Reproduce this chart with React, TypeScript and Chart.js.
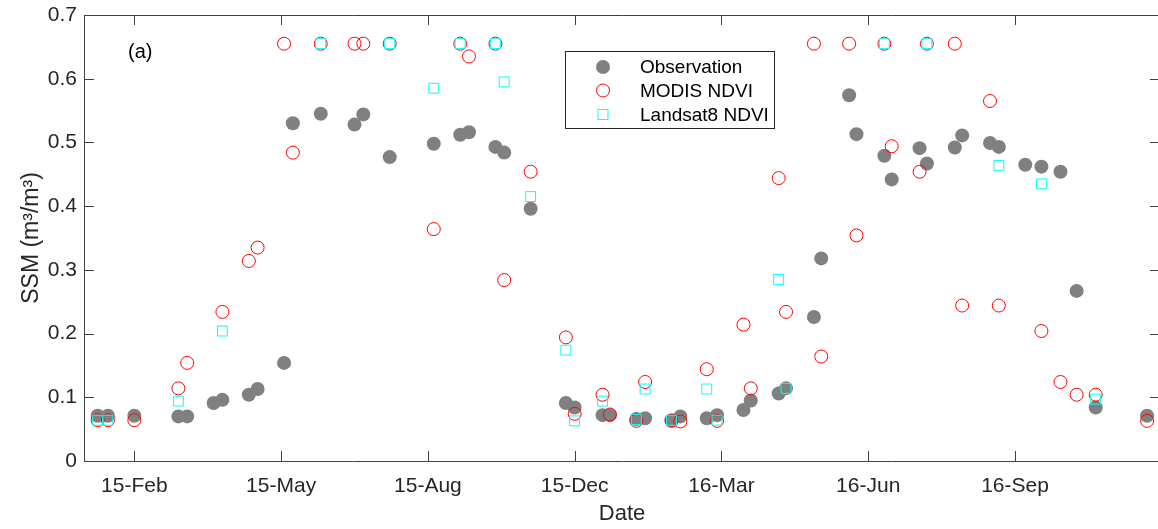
import React, { useEffect, useRef } from 'react';
import { Chart, registerables } from 'chart.js';

Chart.register(...registerables);

// x values are day offsets from the first labelled tick (ticks every 100 days)
const xTickValues = [0, 100, 200, 300, 400, 500, 600];
const xTickLabels = ['15-Feb', '15-May', '15-Aug', '15-Dec', '16-Mar', '16-Jun', '16-Sep'];
const yTickValues = [0, 0.1, 0.2, 0.3, 0.4, 0.5, 0.6, 0.7];

const seriesNames = ['Observation', 'MODIS NDVI', 'Landsat8 NDVI'];
const panelLabel = '(a)';
const xTitle = 'Date';
const yTitle = 'SSM (m³/m³)';

const obsDays = [-25, -18, 0, 30, 36, 54, 60, 78, 84, 102, 108, 127, 150, 156, 174, 204, 222, 228, 246, 252, 270, 294, 300, 319, 324, 342, 348, 366, 372, 390, 397, 415, 420, 439, 444, 463, 468, 487, 492, 511, 516, 535, 540, 559, 564, 583, 589, 607, 618, 631, 642, 655, 690];
const obsSSM = [0.071, 0.071, 0.071, 0.070, 0.070, 0.091, 0.096, 0.104, 0.113, 0.154, 0.530, 0.545, 0.528, 0.544, 0.477, 0.498, 0.512, 0.516, 0.493, 0.484, 0.396, 0.091, 0.084, 0.072, 0.072, 0.066, 0.067, 0.064, 0.070, 0.067, 0.072, 0.080, 0.095, 0.106, 0.114, 0.226, 0.318, 0.574, 0.513, 0.479, 0.442, 0.491, 0.467, 0.492, 0.511, 0.499, 0.493, 0.465, 0.462, 0.454, 0.267, 0.084, 0.071];

const modisDays = [-25, -18, 0, 30, 36, 60, 78, 84, 102, 108, 127, 150, 156, 174, 204, 222, 228, 246, 252, 270, 294, 300, 319, 324, 342, 348, 366, 372, 390, 397, 415, 420, 439, 444, 463, 468, 487, 492, 511, 516, 535, 540, 559, 564, 583, 589, 618, 631, 642, 655, 690];
const modisSSM = [0.064, 0.064, 0.064, 0.114, 0.154, 0.234, 0.314, 0.335, 0.655, 0.484, 0.655, 0.655, 0.655, 0.655, 0.364, 0.655, 0.635, 0.655, 0.284, 0.454, 0.194, 0.074, 0.104, 0.073, 0.063, 0.124, 0.063, 0.062, 0.144, 0.063, 0.214, 0.114, 0.444, 0.234, 0.655, 0.164, 0.655, 0.354, 0.655, 0.494, 0.454, 0.655, 0.655, 0.244, 0.565, 0.244, 0.204, 0.124, 0.104, 0.104, 0.063];

const landsatDays = [-25, -18, 30, 60, 127, 174, 204, 222, 246, 252, 270, 294, 300, 319, 342, 348, 366, 390, 397, 439, 444, 511, 540, 589, 618, 655];
const landsatSSM = [0.064, 0.064, 0.094, 0.204, 0.655, 0.655, 0.585, 0.655, 0.655, 0.595, 0.415, 0.174, 0.063, 0.094, 0.065, 0.113, 0.064, 0.113, 0.064, 0.285, 0.114, 0.655, 0.655, 0.464, 0.435, 0.097];

const FONT = '"Liberation Sans", Arial, sans-serif';
const OBS_COLOR = '#808080';
const MODIS_COLOR = '#ff0000';
const LANDSAT_COLOR = '#00ffff';
const AXIS_COLOR = '#404040';
const TEXT_COLOR = '#262626';

const toPoints = (xs: number[], ys: number[]) => xs.map((x, i) => ({ x, y: ys[i] }));

const framePlugin = {
  id: 'matlabFrame',
  afterDraw(chart: any) {
    const { ctx, chartArea, scales } = chart;
    const { left, right, top, bottom } = chartArea;
    const tick = 10;
    ctx.save();
    ctx.strokeStyle = AXIS_COLOR;
    ctx.lineWidth = 1;
    ctx.beginPath();
    ctx.rect(Math.round(left) + 0.5, Math.round(top) + 0.5, Math.round(right - left), Math.round(bottom - top));
    xTickValues.forEach((v) => {
      const px = Math.round(scales.x.getPixelForValue(v)) + 0.5;
      ctx.moveTo(px, bottom);
      ctx.lineTo(px, bottom - tick);
      ctx.moveTo(px, top);
      ctx.lineTo(px, top + tick);
    });
    yTickValues.forEach((v) => {
      const py = Math.round(scales.y.getPixelForValue(v)) + 0.5;
      ctx.moveTo(left, py);
      ctx.lineTo(left + tick, py);
      ctx.moveTo(right, py);
      ctx.lineTo(right - tick, py);
    });
    ctx.stroke();

    // panel label
    ctx.fillStyle = '#000';
    ctx.font = `20px ${FONT}`;
    ctx.textBaseline = 'middle';
    ctx.textAlign = 'left';
    ctx.fillText(panelLabel, 128, 52);

    // legend box
    const bx = 565, by = 51, bw = 209, bh = 77;
    ctx.fillStyle = '#ffffff';
    ctx.fillRect(bx, by, bw, bh);
    ctx.strokeStyle = TEXT_COLOR;
    ctx.strokeRect(bx + 0.5, by + 0.5, bw, bh);
    const rows = [67, 90.5, 114.5];
    const mx = 603;
    ctx.fillStyle = OBS_COLOR;
    ctx.beginPath();
    ctx.arc(mx, rows[0], 7, 0, Math.PI * 2);
    ctx.fill();
    ctx.strokeStyle = MODIS_COLOR;
    ctx.beginPath();
    ctx.arc(mx, rows[1], 6.5, 0, Math.PI * 2);
    ctx.stroke();
    ctx.strokeStyle = LANDSAT_COLOR;
    ctx.strokeRect(mx - 5, rows[2] - 5, 10, 10);

    ctx.fillStyle = '#000';
    ctx.font = `19px ${FONT}`;
    seriesNames.forEach((name, i) => ctx.fillText(name, 640, rows[i] + 1));
    ctx.restore();
  },
};

export default function App() {
  const ref = useRef<HTMLCanvasElement | null>(null);
  useEffect(() => {
    if (!ref.current) return;
    const chart = new Chart(ref.current, {
      type: 'scatter',
      data: {
        datasets: [
          {
            label: seriesNames[0],
            data: toPoints(obsDays, obsSSM),
            pointStyle: 'circle',
            pointRadius: 7,
            pointHoverRadius: 7,
            backgroundColor: OBS_COLOR,
            borderColor: OBS_COLOR,
            borderWidth: 0,
            order: 3,
          },
          {
            label: seriesNames[1],
            data: toPoints(modisDays, modisSSM),
            pointStyle: 'circle',
            pointRadius: 6.5,
            pointHoverRadius: 6.5,
            backgroundColor: 'rgba(0,0,0,0)',
            borderColor: MODIS_COLOR,
            borderWidth: 1,
            order: 2,
          },
          {
            label: seriesNames[2],
            data: toPoints(landsatDays, landsatSSM),
            pointStyle: 'rect',
            pointRadius: 7,
            pointHoverRadius: 7,
            backgroundColor: 'rgba(0,0,0,0)',
            borderColor: LANDSAT_COLOR,
            borderWidth: 1,
            order: 1,
          },
        ],
      },
      options: {
        animation: false,
        responsive: false,
        maintainAspectRatio: false,
        layout: { padding: { left: 0, top: 15, right: 15, bottom: 0 } },
        plugins: { legend: { display: false }, tooltip: { enabled: false } },
        scales: {
          x: {
            type: 'linear',
            min: -34.3,
            max: 698.8,
            afterBuildTicks: (s: any) => {
              s.ticks = xTickValues.map((v) => ({ value: v }));
            },
            afterFit: (s: any) => {
              s.height = 68;
              s.paddingLeft = 0;
              s.paddingRight = 0;
            },
            grid: { display: false, drawTicks: false },
            border: { display: false },
            ticks: {
              autoSkip: false,
              maxRotation: 0,
              padding: 13,
              color: TEXT_COLOR,
              font: { family: FONT, size: 21 },
              callback: (v: any) => xTickLabels[xTickValues.indexOf(Number(v))] ?? '',
            },
            title: {
              display: true,
              text: xTitle,
              color: TEXT_COLOR,
              font: { family: FONT, size: 22 },
              padding: { top: 0, bottom: 2 },
            },
          },
          y: {
            type: 'linear',
            min: 0,
            max: 0.7,
            afterBuildTicks: (s: any) => {
              s.ticks = yTickValues.map((v) => ({ value: v }));
            },
            afterFit: (s: any) => {
              s.width = 84;
              s.paddingTop = 0;
              s.paddingBottom = 0;
            },
            grid: { display: false, drawTicks: false },
            border: { display: false },
            ticks: {
              padding: 7,
              color: TEXT_COLOR,
              font: { family: FONT, size: 21 },
              callback: (v: any) => (Number(v) === 0 ? '0' : Number(v).toFixed(1)),
            },
            title: {
              display: true,
              text: yTitle,
              color: TEXT_COLOR,
              font: { family: FONT, size: 23 },
              padding: { top: 18, bottom: 0 },
            },
          },
        },
      },
      plugins: [framePlugin],
    } as any);
    return () => chart.destroy();
  }, []);

  return (
    <div style={{ position: 'absolute', left: 0, top: 0, width: 1158, height: 529, overflow: 'hidden', background: '#fff' }}>
      <canvas ref={ref} width={1175} height={529} style={{ display: 'block' }} />
    </div>
  );
}
